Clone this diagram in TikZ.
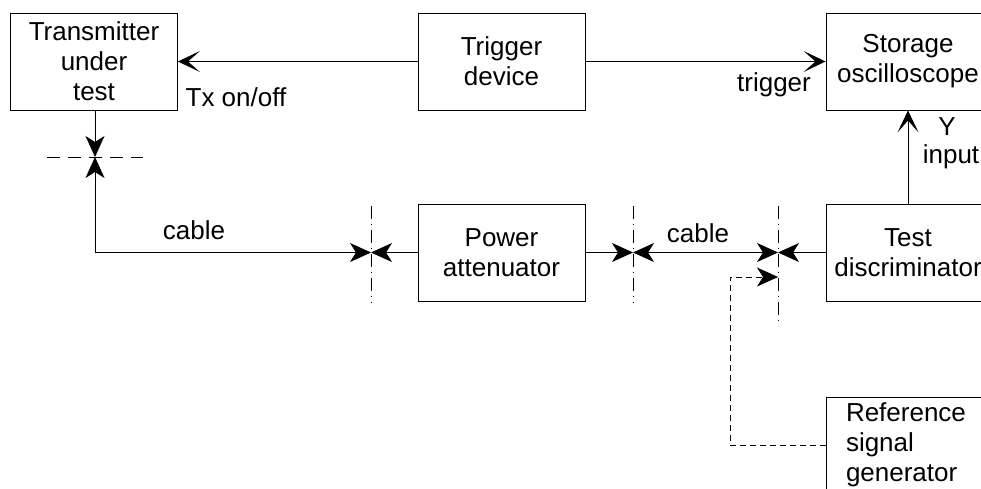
\documentclass[tikz,border=0pt]{standalone}
\usepackage{fontspec}
\setmainfont{Liberation Sans}
\usetikzlibrary{arrows.meta}
\begin{document}
\begin{tikzpicture}[x=1pt,y=-1pt,
  font=\fontsize{26}{30}\selectfont,
  line width=0.9pt,
  box/.style={draw, rectangle, inner sep=0pt, align=center, minimum width=167pt, minimum height=97pt},
  lbl/.style={inner sep=0pt, anchor=center},
  open/.style={-{Stealth[length=22pt,width=21pt,inset=12pt]}},
  barb/.style={-{Stealth[length=21pt,width=19pt,inset=6pt]}},
  twobarb/.style={{Stealth[length=21pt,width=19pt,inset=6pt]}-{Stealth[length=21pt,width=19pt,inset=6pt]}},
  cut/.style={line width=0.7pt, dash pattern=on 13pt off 5pt on 1pt off 5pt},
  hcut/.style={line width=0.7pt, dash pattern=on 13pt off 8pt},
  refline/.style={line width=0.7pt, dash pattern=on 6pt off 4pt}
]
\useasboundingbox (0,0) rectangle (981,488);
\clip (0,0) rectangle (981,488);

% boxes
\node[box] (tx)   at (94,61.5)  {Transmitter\\under\\test};
\node[box] (trig) at (501.5,61.5) {Trigger\\device};
\node[box, minimum width=164pt] (stor) at (908,61.5) {Storage\\oscilloscope};
\node[box] (pow)  at (501.5,252.5) {Power\\attenuator};
\node[box, minimum width=164pt] (disc) at (908,252.5) {Test\\discriminator};
\node[box, minimum width=164pt, minimum height=96pt, text width=124pt, align=left] (ref) at (908,445) {Reference\\signal\\generator};

% crossing points
\coordinate (c1) at (95,157);
\coordinate (c2) at (371,252.5);
\coordinate (c3) at (633,252.5);
\coordinate (c4) at (778,252.5);
\coordinate (c5) at (778,277);
\coordinate (k1) at (730,445);
\coordinate (k2) at (730,277);

% cut lines
\draw[hcut] ([xshift=-48pt]c1) -- ([xshift=48pt]c1);
\draw[cut] ([yshift=47pt]c2) -- ([yshift=-50pt]c2);
\draw[cut] ([yshift=47pt]c3) -- ([yshift=-50pt]c3);
\draw[cut] ([yshift=47pt]c4) -- ([yshift=-73pt]c4);

% top connectors
\draw[open] (trig.west) -- (tx.east);
\draw[open] (trig.east) -- (stor.west);
\draw[open] (disc.north) -- (stor.south);

% cables
\draw[barb] (tx.south -| c1) -- (c1);
\draw[twobarb] (c1) |- (c2);
\draw[barb] (pow.west) -- (c2);
\draw[barb] (pow.east) -- (c3);
\draw[twobarb] (c3) -- (c4);
\draw[barb] (disc.west) -- (c4);
\draw[refline, -{Stealth[length=21pt,width=19pt,inset=6pt]}] (ref.west) -- (k1) -- (k2) -- (c5);

% labels
\node[lbl] (ltx) at (236,97) {Tx on/off};
\node[lbl] (ltr) at (774,85) {trigger};
\node[lbl] (ly)  at (947,127) {Y};
\node[lbl] (lin) at (951,157) {input};
\node[lbl] (lc1) at (194,230) {cable};
\node[lbl] (lc2) at (698,233) {cable};
\end{tikzpicture}
\end{document}
